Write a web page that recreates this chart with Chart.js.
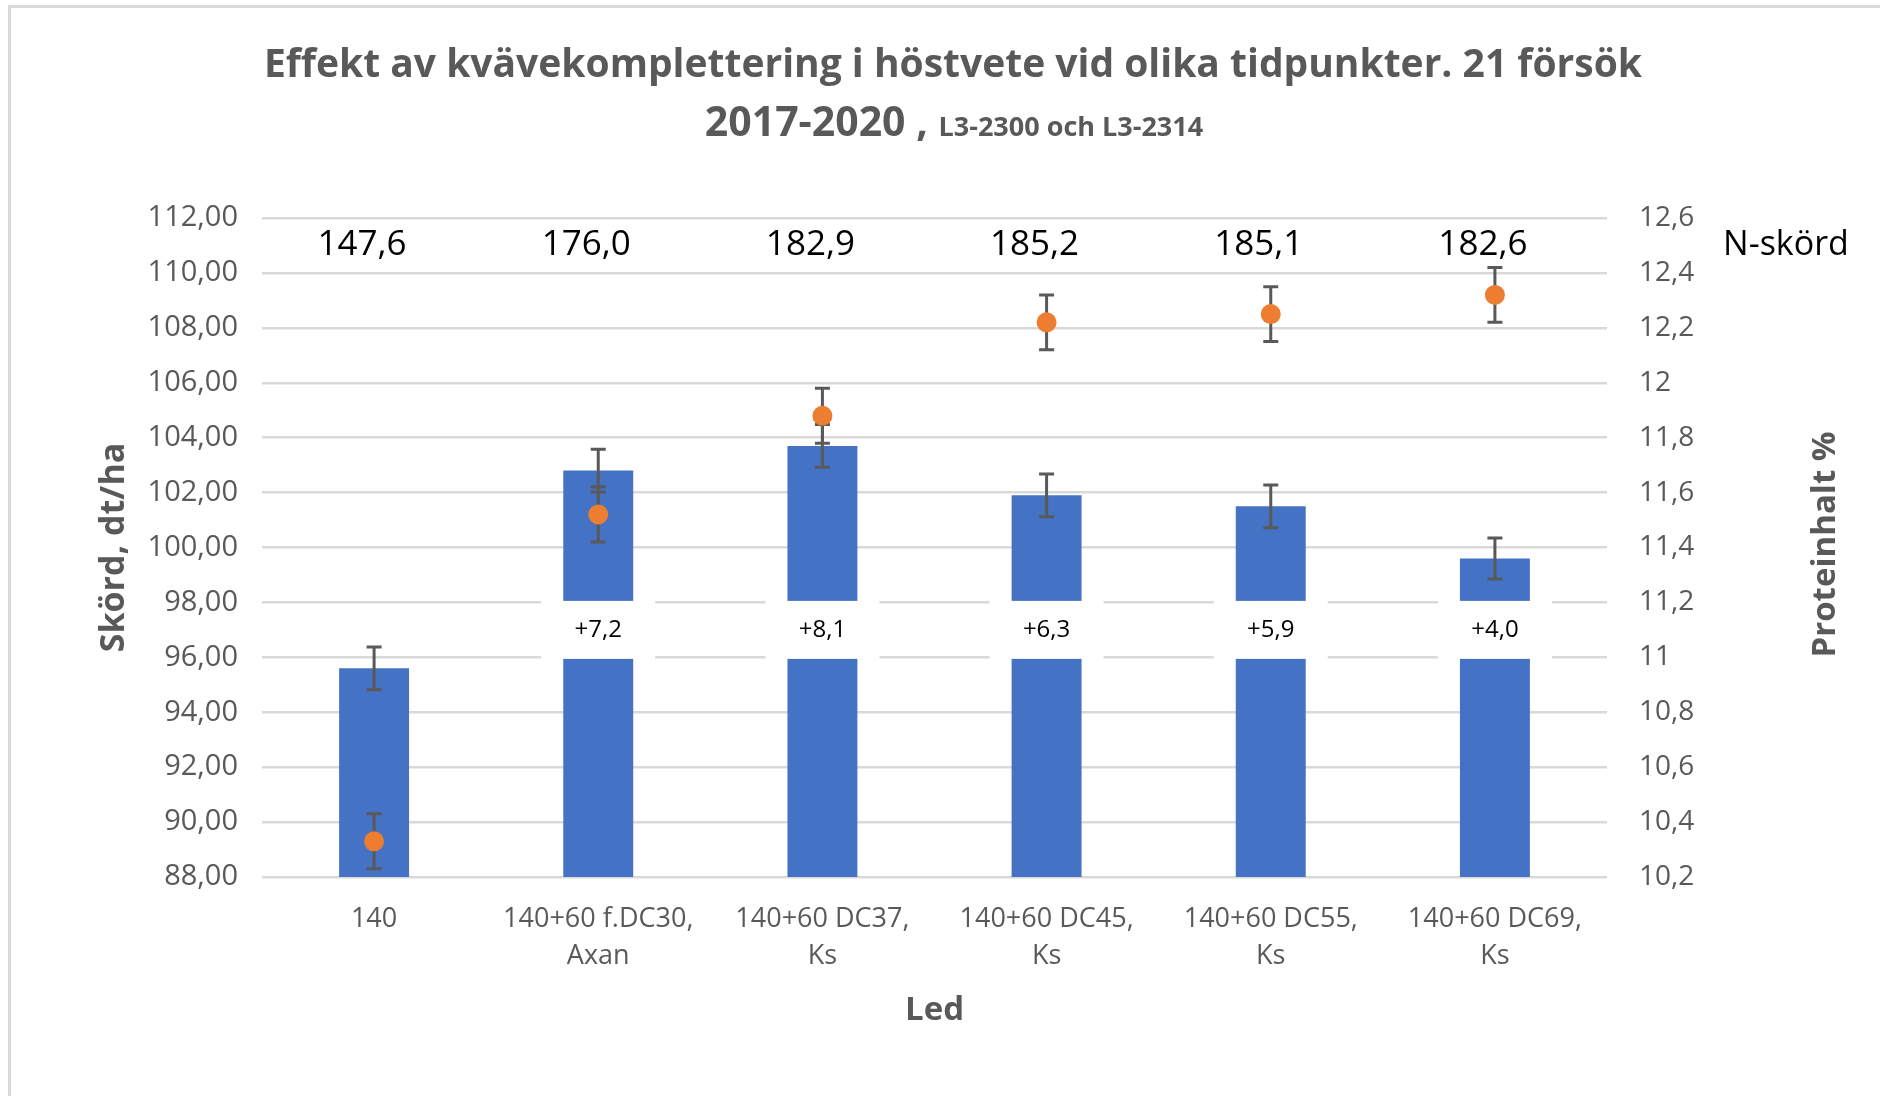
<!DOCTYPE html>
<html lang="sv">
<head>
<meta charset="utf-8">
<title>Effekt av kvävekomplettering i höstvete</title>
<script src="https://cdn.jsdelivr.net/npm/chart.js@4.4.0/dist/chart.umd.min.js"></script>
<style>
    html, body { margin: 0; padding: 0; background: #fff; }
    #wrap { width: 1880px; height: 1096px; position: relative; }
</style>
</head>
<body>
<div id="wrap"><canvas id="chart" width="1880" height="1096"></canvas></div>
<script>
// led (kategorier på x-axeln)
const categories = [
    ['140'],
    ['140+60 f.DC30,', 'Axan'],
    ['140+60 DC37,', 'Ks'],
    ['140+60 DC45,', 'Ks'],
    ['140+60 DC55,', 'Ks'],
    ['140+60 DC69,', 'Ks']
];

// skörd dt/ha (staplar) och felstaplar
const yieldValues = [95.6, 102.8, 103.7, 101.9, 101.5, 99.6];
const yieldErrors = [0.78, 0.78, 0.78, 0.78, 0.78, 0.75];

// proteinhalt % (punkter) och felstaplar
const proteinValues = [10.33, 11.52, 11.88, 12.22, 12.25, 12.32];
const proteinErrors = [0.1, 0.1, 0.1, 0.1, 0.1, 0.1];

// merskörd jämfört med 140
const gainLabels = ['', '+7,2', '+8,1', '+6,3', '+5,9', '+4,0'];

// N-skörd per led
const nYieldLabels = ['147,6', '176,0', '182,9', '185,2', '185,1', '182,6'];

// axlarnas intervall
const yieldAxis = [88, 112, 2];
const proteinAxis = [10.2, 12.6, 0.2];

const FONT = "'Open Sans', sans-serif";
const GREY = '#595959';

// egna ritningar: felstaplar, etiketter, rubrik
const overlayPlugin = {
    id: 'overlay',
    beforeDatasetDraw(chart, args) {
        if (args.index !== 1) return;
        const ctx = chart.ctx;
        const y = chart.scales.y;
        const y1 = chart.scales.y1;
        const bars = chart.getDatasetMeta(0).data;

        // merskörd-etiketter med vit bakgrund
        ctx.save();
        ctx.font = '24px ' + FONT;
        ctx.textAlign = 'center';
        ctx.textBaseline = 'middle';
        gainLabels.forEach((txt, i) => {
            if (!txt) return;
            const cx = bars[i].x;
            const cy = y.getPixelForValue(97);
            ctx.fillStyle = '#fff';
            ctx.fillRect(cx - 57, cy - 29, 114, 58);
            ctx.fillStyle = '#000';
            ctx.fillText(txt, cx, cy);
        });
        ctx.restore();

        // felstaplar
        const drawErr = (x, top, bottom) => {
            ctx.beginPath();
            ctx.moveTo(x, top);
            ctx.lineTo(x, bottom);
            ctx.moveTo(x - 7.5, top);
            ctx.lineTo(x + 7.5, top);
            ctx.moveTo(x - 7.5, bottom);
            ctx.lineTo(x + 7.5, bottom);
            ctx.stroke();
        };
        ctx.save();
        ctx.strokeStyle = GREY;
        ctx.lineWidth = 3;
        yieldValues.forEach((v, i) => {
            drawErr(bars[i].x, y.getPixelForValue(v + yieldErrors[i]), y.getPixelForValue(v - yieldErrors[i]));
        });
        const pts = chart.getDatasetMeta(1).data;
        proteinValues.forEach((v, i) => {
            drawErr(pts[i].x, y1.getPixelForValue(v + proteinErrors[i]), y1.getPixelForValue(v - proteinErrors[i]));
        });
        ctx.restore();
    },
    afterDraw(chart) {
        const ctx = chart.ctx;
        const area = chart.chartArea;
        const y = chart.scales.y;
        const bars = chart.getDatasetMeta(0).data;

        ctx.save();
        // N-skörd
        ctx.fillStyle = '#000';
        ctx.font = '35px ' + FONT;
        ctx.textAlign = 'center';
        ctx.textBaseline = 'middle';
        nYieldLabels.forEach((txt, i) => {
            ctx.fillText(txt, bars[i].x - 12, y.getPixelForValue(111));
        });
        ctx.font = '34px ' + FONT;
        ctx.fillText('N-skörd', area.right + 179, y.getPixelForValue(111));

        // höger axeltitel
        ctx.save();
        ctx.translate(1826, (area.top + area.bottom) / 2 - 3);
        ctx.rotate(-Math.PI / 2);
        ctx.fillStyle = GREY;
        ctx.font = 'bold 33px ' + FONT;
        ctx.fillText('Proteinhalt %', 0, 0);
        ctx.restore();

        // rubrik
        ctx.fillStyle = GREY;
        ctx.font = 'bold 39px ' + FONT;
        ctx.fillText('Effekt av kvävekomplettering i höstvete vid olika tidpunkter. 21 försök', 953, 66);
        const big = '2017-2020 , ';
        const small = 'L3-2300 och L3-2314';
        ctx.font = 'bold 41px ' + FONT;
        const wBig = ctx.measureText(big).width;
        ctx.font = 'bold 27px ' + FONT;
        const wSmall = ctx.measureText(small).width;
        const x0 = 954 - (wBig + wSmall) / 2;
        ctx.textAlign = 'left';
        ctx.textBaseline = 'alphabetic';
        ctx.font = 'bold 41px ' + FONT;
        ctx.fillText(big, x0, 136);
        ctx.font = 'bold 27px ' + FONT;
        ctx.fillText(small, x0 + wBig, 136);

        // ram
        ctx.strokeStyle = '#d9d9d9';
        ctx.lineWidth = 3;
        ctx.strokeRect(9.5, 6.5, 1900, 1100);
        ctx.restore();
    }
};

const fmtYield = v => Number(v).toFixed(2).replace('.', ',');
const fmtProtein = v => String(parseFloat(Number(v).toFixed(1))).replace('.', ',');

new Chart(document.getElementById('chart'), {
    data: {
        labels: categories,
        datasets: [
            {
                type: 'bar',
                data: yieldValues,
                backgroundColor: '#4472C4',
                yAxisID: 'y',
                categoryPercentage: 0.312,
                barPercentage: 1,
                order: 2
            },
            {
                type: 'line',
                data: proteinValues,
                yAxisID: 'y1',
                showLine: false,
                pointRadius: 10,
                pointBorderWidth: 0,
                pointBackgroundColor: '#ED7D31',
                pointBorderColor: '#ED7D31',
                order: 1
            }
        ]
    },
    options: {
        responsive: false,
        animation: false,
        layout: { padding: { top: 218, right: 0, bottom: 0, left: 0 } },
        plugins: {
            legend: { display: false },
            tooltip: { enabled: false },
            title: { display: false }
        },
        scales: {
            x: {
                grid: { display: false },
                border: { display: false },
                ticks: {
                    color: GREY,
                    font: { family: FONT, size: 27, lineHeight: 1.4 },
                    padding: 15,
                    maxRotation: 0,
                    autoSkip: false
                },
                title: {
                    display: true,
                    text: 'Led',
                    color: GREY,
                    font: { family: FONT, size: 33, weight: 'bold', lineHeight: 1.2 },
                    padding: { top: 0, bottom: 66 }
                },
                afterFit(s) { s.height = 219; }
            },
            y: {
                position: 'left',
                min: yieldAxis[0],
                max: yieldAxis[1],
                ticks: {
                    stepSize: yieldAxis[2],
                    color: GREY,
                    font: { family: FONT, size: 29 },
                    padding: 24,
                    callback: fmtYield
                },
                grid: { color: '#d9d9d9', lineWidth: 2.5, drawTicks: false },
                border: { display: false },
                title: {
                    display: true,
                    text: 'Skörd, dt/ha',
                    color: GREY,
                    font: { family: FONT, size: 34, weight: 'bold', lineHeight: 1.2 },
                    padding: { top: 94, bottom: 0 }
                },
                afterFit(s) { s.width = 262; }
            },
            y1: {
                position: 'right',
                min: proteinAxis[0],
                max: proteinAxis[1],
                ticks: {
                    stepSize: proteinAxis[2],
                    color: GREY,
                    font: { family: FONT, size: 28 },
                    padding: 32,
                    callback: fmtProtein
                },
                grid: { display: false, drawTicks: false },
                border: { display: false },
                afterFit(s) { s.width = 273; }
            }
        }
    },
    plugins: [overlayPlugin]
});
</script>
</body>
</html>
